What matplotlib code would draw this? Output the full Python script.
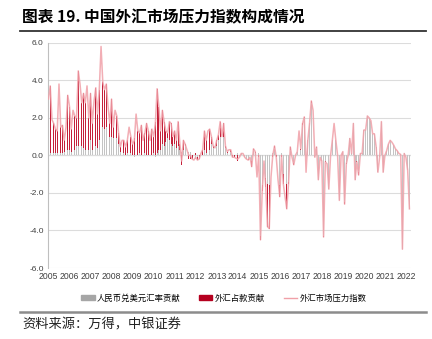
import matplotlib
matplotlib.use("Agg")
import matplotlib.pyplot as plt
import numpy as np
from matplotlib.patches import Patch
from matplotlib.lines import Line2D

plt.rcParams["font.family"] = ["Noto Sans CJK SC", "DejaVu Sans"]

# monthly, Jan 2005 .. Mar 2022
index_vals = [
    3.0, 3.7, 1.9, 1.7, 1.4, 1.3, 3.8, 1.5, 1.6, 0.8, 1.5, 3.2,
    2.6, 1.4, 2.4, 2.1, 2.0, 4.5, 3.8, 2.8, 3.3, 2.8, 3.7, 2.0,
    3.3, 1.7, 2.9, 3.6, 2.2, 3.5, 5.8, 3.9, 3.5, 3.8, 2.6, 1.7,
    3.0, 1.5, 2.4, 2.1, 1.2, 0.45, 0.8, 0.8, 0.45, 0.8, 1.5, 1.0,
    0.6, 0.8, 2.2, 1.3, 1.2, 1.6, 0.8, 1.2, 1.7, 1.3, 0.8, 1.4,
    1.0, 1.7, 3.55, 2.6, 1.3, 2.4, 1.8, 1.3, 1.2, 1.8, 1.7, 1.0,
    1.3, 0.8, 1.8, 0.6, -0.3, 0.8, 0.6, 0.3, 0.0, 0.0, -0.2, -0.25,
    -0.1, -0.25, -0.2, 0.1, 0.3, 1.3, 0.8, 1.3, 1.4, 1.0, 0.5, 0.4,
    0.8, 1.1, 1.8, 1.0, 1.7, 0.5, 0.2, 0.3, 0.3, -0.1, -0.1, -0.15,
    -0.2, -0.1, 0.1, 0.1, -0.1, -0.2, -0.25, -0.1, -0.6, 0.35, 0.2, -1.15,
    0.0, -4.5, -1.9, -0.3, -1.7, -3.8, -3.9, -1.15, 0.0, 0.5, -0.1, -1.3,
    -2.2, 0.0, -1.5, -2.2, -2.85, -1.5, 0.45, -0.1, -0.5, 0.0, 0.2, 1.3,
    0.35, 1.7, 2.05, -0.9, 0.8, 1.7, 2.9, 2.4, -0.1, 0.45, -1.3, -0.1,
    -0.3, -4.35, -0.35, -0.45, -1.8, 0.0, 0.8, 1.7, 0.8, 0.0, -2.4, 0.0,
    0.2, -2.6, -0.45, 0.0, 0.9, 0.1, 1.7, -1.3, -0.35, -1.05, 0.1, 0.1,
    1.35, 1.35, 2.1, 2.0, 1.85, 1.15, 1.15, 0.45, -0.9, -0.1, 1.8, -0.9,
    0.0, 0.25, 0.6, 0.8, 0.7, 0.55, 0.35, 0.25, 0.1, 0.05, -5.0, 0.1,
    -0.1, -0.8, -2.85,
]

rmb_vals = [
    0.7, 0.1, 0.1, 0.1, 0.1, 0.1, 0.2, 0.1, 0.1, 0.2, 0.2, 0.3,
    0.3, 0.2, 0.4, 0.3, 0.5, 0.5, 0.6, 0.5, 0.4, 0.3, 0.5, 0.3,
    0.8, 0.3, 0.8, 0.5, 0.4, 0.8, 1.9, 1.5, 1.4, 1.5, 1.2, 1.0,
    1.0, 0.9, 1.3, 0.9, 0.6, 0.2, 0.1, 0.1, 0.0, 0.1, 0.1, 0.1,
    0.0, -0.1, 0.1, 0.0, 0.1, 0.0, 0.0, 0.1, 0.0, 0.0, 0.1, 0.0,
    0.1, -0.1, 0.1, 0.3, 0.3, 0.6, 0.5, 0.7, 0.9, 0.8, 0.6, 0.5,
    0.6, 0.4, 0.5, 0.3, 0.2, 0.3, 0.5, 0.4, 0.2, 0.2, 0.0, -0.1,
    -0.2, -0.1, 0.0, 0.1, 0.0, 0.3, 0.1, 0.2, 0.3, 0.6, 0.4, 0.3,
    0.5, 0.8, 1.0, 0.6, 1.0, 0.4, 0.1, 0.2, 0.2, 0.0, 0.0, -0.1,
    0.1, -0.1, 0.1, 0.1, -0.1, -0.2, -0.2, -0.1, -0.3, 0.3, 0.1, -0.6,
    0.1, -4.3, -1.6, -0.2, -1.2, -1.5, -1.6, -0.8, 0.1, 0.4, 0.0, -1.0,
    -1.6, 0.1, -1.0, -1.2, -1.5, -1.4, 0.3, -0.1, -0.4, 0.0, 0.2, 1.2,
    0.3, 1.6, 2.0, -0.9, 0.8, 1.7, 2.8, 2.3, -0.1, 0.4, -1.3, -0.1,
    -0.3, -4.3, -0.3, -0.4, -1.8, 0.0, 0.8, 1.7, 0.8, 0.0, -2.4, 0.0,
    0.2, -2.5, -0.4, 0.0, 0.9, 0.1, 1.7, -1.3, -0.3, -0.9, 0.1, 0.1,
    1.35, 1.35, 2.1, 2.0, 1.85, 1.15, 1.15, 0.45, -0.9, -0.1, 1.8, -0.9,
    0.0, 0.25, 0.6, 0.8, 0.7, 0.55, 0.35, 0.25, 0.1, 0.05, -5.0, 0.1,
    -0.1, -0.8, -2.85,
]

fx_vals = [
    2.3, 3.6, 1.8, 1.6, 1.3, 1.2, 3.6, 1.4, 1.5, 0.6, 1.3, 2.9,
    2.3, 1.2, 2.0, 1.8, 1.5, 4.0, 3.2, 2.3, 2.9, 2.5, 3.2, 1.7,
    2.5, 1.4, 2.1, 3.1, 1.8, 2.7, 3.9, 2.4, 2.1, 2.3, 1.4, 0.7,
    2.0, 0.6, 1.1, 1.2, 0.6, 0.25, 0.7, 0.7, 0.45, 0.7, 1.4, 0.9,
    0.6, 0.9, 2.1, 1.3, 1.1, 1.6, 0.8, 1.1, 1.7, 1.3, 0.7, 1.4,
    0.9, 1.8, 3.45, 2.3, 1.0, 1.8, 1.3, 0.6, 0.3, 1.0, 1.1, 0.5,
    0.7, 0.4, 1.3, 0.3, -0.5, 0.5, 0.1, -0.1, -0.2, -0.2, -0.2, -0.15,
    0.1, -0.15, -0.2, 0.0, 0.3, 1.0, 0.7, 1.1, 1.1, 0.4, 0.1, 0.1,
    0.3, 0.3, 0.8, 0.4, 0.7, 0.1, 0.1, 0.1, 0.1, -0.1, -0.1, -0.05,
    -0.3, 0.0, 0.0, 0.0, 0.0, 0.0, -0.05, 0.0, -0.3, 0.05, 0.1, -0.55,
    -0.1, -0.2, -0.3, -0.1, -0.5, -2.3, -2.3, -0.35, -0.1, 0.1, -0.1, -0.3,
    -0.6, -0.1, -0.5, -1.0, -1.35, -0.1, 0.15, 0.0, -0.1, 0.0, 0.0, 0.1,
    0.05, 0.1, 0.05, 0.0, 0.0, 0.0, 0.1, 0.1, 0.0, 0.05, 0.0, 0.0,
    0.0, -0.05, -0.05, -0.05, 0.0, 0.0, 0.0, 0.0, 0.0, 0.0, 0.0, 0.0,
    0.0, -0.1, -0.05, 0.0, 0.0, 0.0, 0.0, 0.0, -0.05, -0.15, 0.0, 0.0,
    0.0, 0.0, 0.0, 0.0, 0.0, 0.0, 0.0, 0.0, 0.0, 0.0, 0.0, 0.0,
    0.0, 0.0, 0.0, 0.0, 0.0, 0.0, 0.0, 0.0, 0.0, 0.0, 0.0, 0.0,
    0.0, 0.0, 0.0,
]

years = list(range(2005, 2023))
labels = ["人民币兑美元汇率贡献", "外汇占款贡献", "外汇市场压力指数"]

c_gray = "#C4C4C4"
c_red = "#B5001F"
c_line = "#F0A0A8"

idx = np.array(index_vals)
rmb = np.array(rmb_vals)
fx = np.array(fx_vals)
x = np.arange(len(idx))

fig = plt.figure(figsize=(4.32, 3.39), dpi=100)
ax = fig.add_axes([0.111, 0.2094, 0.840, 0.6646])

# stacked bars, positives up and negatives down
fx_bottom = np.where(fx >= 0, np.maximum(rmb, 0), np.minimum(rmb, 0))
ax.bar(x, rmb, 0.45, color=c_gray, linewidth=0, zorder=2)
ax.bar(x, fx, 0.45, bottom=fx_bottom, color="#C4203A", linewidth=0, zorder=2)
ax.plot(x, idx, color=c_line, lw=1.1, alpha=0.85, zorder=3)

ax.set_xlim(-0.3, 206.8)
ax.set_ylim(-6, 6)
ax.set_yticks(np.arange(-6, 6.1, 2))
ax.set_yticklabels(["%.1f" % v for v in np.arange(-6, 6.1, 2)],
                   family="Liberation Sans", fontsize=6, color="#404040")
ax.set_xticks([(y - 2005) * 12 for y in years])
ax.set_xticklabels([str(y) for y in years], family="Liberation Sans",
                   fontsize=6.2, color="#404040")
ax.tick_params(axis="both", length=0, pad=3)
ax.grid(axis="y", color="#DCDCDC", lw=0.8, zorder=0)
ax.axhline(0, color="#BFBFBF", lw=0.8, zorder=1)
for s in ["top", "right", "bottom"]:
    ax.spines[s].set_visible(False)
ax.spines["left"].set_color("#BFBFBF")
ax.spines["left"].set_linewidth(0.8)

handles = [
    Patch(color="#A6A6A6"),
    Patch(color=c_red),
    Line2D([0], [0], color=c_line, lw=1.0),
]
fig.legend(handles, labels, loc="center", bbox_to_anchor=(0.518, 0.121),
           ncol=3, frameon=False, fontsize=6, handlelength=1.6,
           handleheight=0.6, handletextpad=0.3, columnspacing=2.2)

fig.text(0.051, 0.949, "图表 19. 中国外汇市场压力指数构成情况",
         fontsize=11.3, fontweight="bold", va="center", ha="left")
fig.add_artist(Line2D([0.046, 0.986], [0.9085, 0.9085], color="#333333", lw=1.3))
fig.add_artist(Line2D([0.046, 0.986], [0.079, 0.079], color="#8C8C8C", lw=1.8))
fig.text(0.051, 0.041, "资料来源：万得，中银证券", fontsize=9.5,
         va="center", ha="left", color="#222222")

fig.savefig("out.png", dpi=100)
